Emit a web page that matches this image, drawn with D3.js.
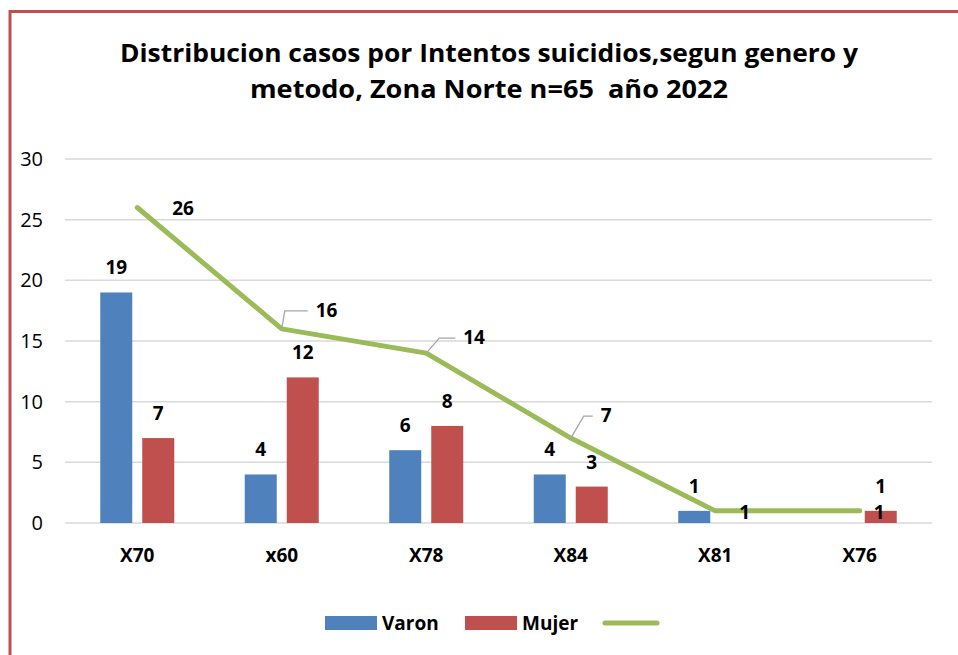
<!DOCTYPE html>
<html>
<head>
<meta charset="utf-8">
<script src="https://cdnjs.cloudflare.com/ajax/libs/d3/7.8.5/d3.min.js"></script>
<style>
  html, body { margin: 0; padding: 0; background: #fff; }
  svg { display: block; font-family: "Open Sans", sans-serif; }
  text { white-space: pre; }
</style>
</head>
<body>
<div id="chart"></div>
<script>
// chart data
const categories = ['X70', 'x60', 'X78', 'X84', 'X81', 'X76'];
const varon = [19, 4, 6, 4, 1, 0];
const mujer = [7, 12, 8, 3, 0, 1];
const total = [26, 16, 14, 7, 1, 1];
const yTicks = [0, 5, 10, 15, 20, 25, 30];
const titleLines = ['Distribucion casos por Intentos suicidios,segun genero y', 'metodo, Zona Norte n=65  año 2022'];

const width = 958, height = 655;
const colors = { varon: '#4F81BD', mujer: '#C0504D', line: '#9BBB59', border: '#C0504D' };
const labelSize = 19;

const svg = d3.select('#chart').append('svg')
  .attr('width', width)
  .attr('height', height);

svg.append('rect').attr('width', width).attr('height', height).attr('fill', '#fff');

// frame (left and top red edges)
svg.append('path')
  .attr('d', 'M10,655 V11.5 H958')
  .attr('fill', 'none')
  .attr('stroke', colors.border)
  .attr('stroke-width', 3);

// title
const title = svg.append('g').attr('class', 'title');
const titleWidths = [738, 478];
titleLines.forEach((t, i) => {
  title.append('text')
    .attr('x', 489)
    .attr('y', 62 + i * 36)
    .attr('text-anchor', 'middle')
    .attr('font-size', 25)
    .attr('font-weight', 'bold')
    .attr('fill', '#000')
    .attr('textLength', titleWidths[i])
    .attr('lengthAdjust', 'spacingAndGlyphs')
    .text(t);
});

// scales
const x = d3.scaleBand().domain(categories).range([65, 932]);
const y = d3.scaleLinear().domain([0, 30]).range([523, 159]);
const sub = d3.scaleBand().domain(['varon', 'mujer']).range([-37, 37]).paddingInner(10 / 42);

// gridlines
svg.append('g')
  .selectAll('line')
  .data(yTicks)
  .join('line')
  .attr('x1', 65).attr('x2', 932)
  .attr('y1', d => y(d)).attr('y2', d => y(d))
  .attr('stroke', '#D9D9D9')
  .attr('stroke-width', 1.5);

// y axis labels
const yAxis = svg.append('g')
  .attr('transform', 'translate(43,0)')
  .call(d3.axisLeft(y).tickValues(yTicks).tickSize(0).tickPadding(0));
yAxis.select('.domain').remove();
yAxis.selectAll('text')
  .attr('font-size', 20)
  .attr('font-family', '"Open Sans", sans-serif')
  .attr('fill', '#000');

// x axis labels
const xAxis = svg.append('g')
  .attr('transform', 'translate(0,548)')
  .call(d3.axisBottom(x).tickSize(0).tickPadding(0));
xAxis.select('.domain').remove();
xAxis.selectAll('text')
  .attr('font-size', labelSize)
  .attr('font-weight', 'bold')
  .attr('font-family', '"Open Sans", sans-serif')
  .attr('fill', '#000');

// bars
const series = [
  { key: 'varon', values: varon, color: colors.varon },
  { key: 'mujer', values: mujer, color: colors.mujer }
];
const bandCenter = c => x(c) + x.bandwidth() / 2;

series.forEach(s => {
  const g = svg.append('g').attr('class', 'bars-' + s.key);
  g.selectAll('rect')
    .data(categories.map((c, i) => ({ c, v: s.values[i] })))
    .join('rect')
    .attr('x', d => bandCenter(d.c) + sub(s.key))
    .attr('width', sub.bandwidth())
    .attr('y', d => y(d.v))
    .attr('height', d => y(0) - y(d.v))
    .attr('fill', s.color);

  g.selectAll('text')
    .data(categories.map((c, i) => ({ c, v: s.values[i] })).filter(d => d.v > 0))
    .join('text')
    .attr('x', d => bandCenter(d.c) + sub(s.key) + sub.bandwidth() / 2)
    .attr('y', d => y(d.v) - 18)
    .attr('text-anchor', 'middle')
    .attr('font-size', labelSize)
    .attr('font-weight', 'bold')
    .text(d => d.v);
});

// total line
const lineData = categories.map((c, i) => ({ c, v: total[i] }));
const line = d3.line().x(d => bandCenter(d.c)).y(d => y(d.v));
svg.append('path')
  .datum(lineData)
  .attr('d', line)
  .attr('fill', 'none')
  .attr('stroke', colors.line)
  .attr('stroke-width', 5)
  .attr('stroke-linecap', 'round')
  .attr('stroke-linejoin', 'round');

// line labels: [dx, dy, leader?]
const lineLabelPos = [[35, 7, false], [34, -12, true], [37, -9, true], [30, -16, true], [24, 8, false], [14, 8, false]];
const ll = svg.append('g').attr('class', 'line-labels');
lineData.forEach((d, i) => {
  const px = bandCenter(d.c), py = y(d.v);
  const [dx, dy, leader] = lineLabelPos[i];
  if (leader) {
    const ly = py + dy - 6;
    ll.append('path')
      .attr('d', `M${px},${py} L${px + (i === 1 ? 3 : 13)},${ly} H${px + dx - 8}`)
      .attr('fill', 'none')
      .attr('stroke', '#A6A6A6')
      .attr('stroke-width', 1.3);
  }
  ll.append('text')
    .attr('x', px + dx)
    .attr('y', py + dy)
    .attr('text-anchor', 'start')
    .attr('font-size', labelSize)
    .attr('font-weight', 'bold')
    .text(d.v);
});

// legend
const legend = svg.append('g').attr('class', 'legend');
legend.append('rect').attr('x', 325).attr('y', 616).attr('width', 52).attr('height', 14).attr('fill', colors.varon);
legend.append('text').attr('x', 382).attr('y', 630).attr('font-size', labelSize).attr('font-weight', 'bold').text('Varon');
legend.append('rect').attr('x', 465).attr('y', 616).attr('width', 52).attr('height', 14).attr('fill', colors.mujer);
legend.append('text').attr('x', 522).attr('y', 630).attr('font-size', labelSize).attr('font-weight', 'bold').text('Mujer');
legend.append('line').attr('x1', 605).attr('x2', 657).attr('y1', 623).attr('y2', 623)
  .attr('stroke', colors.line).attr('stroke-width', 5).attr('stroke-linecap', 'round');
</script>
</body>
</html>
